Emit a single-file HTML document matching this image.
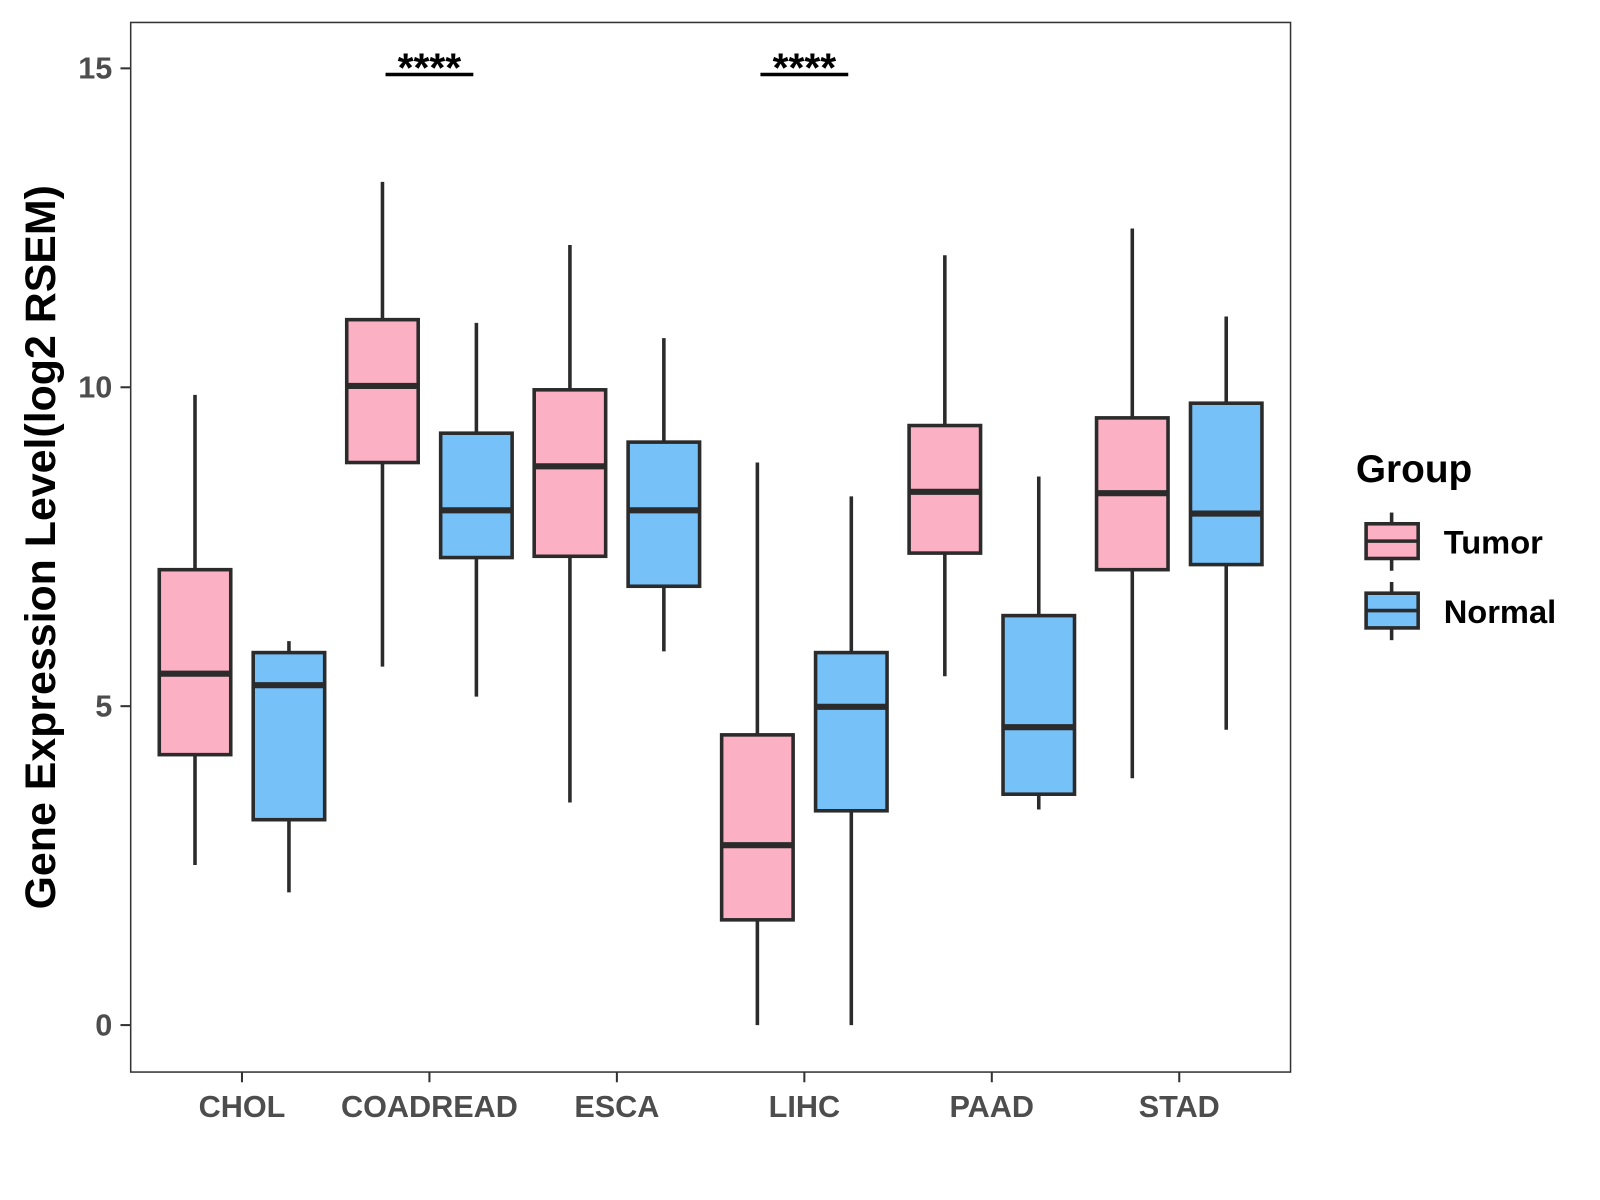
<!DOCTYPE html>
<html><head><meta charset="utf-8"><style>
html,body{margin:0;padding:0;background:#fff;}
svg{display:block;font-family:"Liberation Sans",Arial,sans-serif;}
</style></head><body>
<svg id="chart" width="1600" height="1200" viewBox="0 0 1600 1200" xmlns="http://www.w3.org/2000/svg">
<rect x="0" y="0" width="1600" height="1200" fill="#fff"/>
<g transform="scale(1.021)">
<rect x="128" y="22" width="1136" height="1028" fill="#fff" stroke="#333" stroke-width="1.5"/>
<g id="marks"></g>
<g id="axes"></g>
<text transform="translate(54,536) rotate(-90)" text-anchor="middle" font-size="42" font-weight="bold" fill="#000">Gene Expression Level(log2 RSEM)</text>
<g>
<text x="1328" y="472" font-size="38" font-weight="bold" fill="#000">Group</text>
<g>
<line x1="1363" y1="502" x2="1363" y2="559" stroke="#2b2b2b" stroke-width="3.5"/>
<rect x="1338" y="513" width="51" height="34" fill="#FBB1C3" stroke="#2b2b2b" stroke-width="3.5"/>
<line x1="1338" y1="530" x2="1389" y2="530" stroke="#2b2b2b" stroke-width="3.5"/>
<text x="1414" y="542" font-size="32" font-weight="bold" fill="#000">Tumor</text>
</g>
<g>
<line x1="1363" y1="570" x2="1363" y2="627" stroke="#2b2b2b" stroke-width="3.5"/>
<rect x="1338" y="581" width="51" height="34" fill="#76C1F8" stroke="#2b2b2b" stroke-width="3.5"/>
<line x1="1338" y1="598" x2="1389" y2="598" stroke="#2b2b2b" stroke-width="3.5"/>
<text x="1414" y="610" font-size="32" font-weight="bold" fill="#000">Normal</text>
</g>
</g>
</g>
</svg>
<script>
const categories=["CHOL","COADREAD","ESCA","LIHC","PAAD","STAD"];
const tumorMin=[2.51,5.62,3.49,0,5.47,3.87];
const tumorQ1=[4.24,8.82,7.35,1.65,7.40,7.14];
const tumorMed=[5.51,10.02,8.76,2.82,8.36,8.34];
const tumorQ3=[7.14,11.06,9.96,4.55,9.40,9.52];
const tumorMax=[9.88,13.22,12.23,8.82,12.07,12.49];
const normalMin=[2.08,5.15,5.86,0,3.38,4.63];
const normalQ1=[3.22,7.33,6.88,3.36,3.62,7.22];
const normalMed=[5.33,8.07,8.07,4.99,4.67,8.02];
const normalQ3=[5.84,9.28,9.14,5.84,6.42,9.75];
const normalMax=[6.02,11.01,10.77,8.29,8.60,11.11];
const yTicks=[0,5,10,15];
const signifCats=["COADREAD","LIHC"];
const signifLabel="****";
const signifY=15;

const NS="http://www.w3.org/2000/svg";
function y(v){return 1004-62.47*v;}
function x(i){return 237+183.6*i;}
function mk(tag,attrs,parent){const e=document.createElementNS(NS,tag);for(const k in attrs)e.setAttribute(k,attrs[k]);parent.appendChild(e);return e;}
const marks=document.getElementById('marks'),axes=document.getElementById('axes');
function box(cx,mn,q1,md,q3,mx,fill,name){
  const g=mk('g',{},marks);
  
  
  const st={stroke:'#2b2b2b','stroke-width':3.5};
  mk('line',Object.assign({x1:cx,x2:cx,y1:y(mx),y2:y(q3)},st),g);
  mk('line',Object.assign({x1:cx,x2:cx,y1:y(q1),y2:y(mn)},st),g);
  mk('rect',Object.assign({x:cx-35,y:y(q3),width:70,height:y(q1)-y(q3),fill:fill},st),g);
  mk('line',{x1:cx-35,x2:cx+35,y1:y(md),y2:y(md),stroke:'#2b2b2b','stroke-width':6},g);
}
categories.forEach((c,i)=>{
  box(x(i)-46,tumorMin[i],tumorQ1[i],tumorMed[i],tumorQ3[i],tumorMax[i],'#FBB1C3','box-tumor-'+c.toLowerCase());
  box(x(i)+46,normalMin[i],normalQ1[i],normalMed[i],normalQ3[i],normalMax[i],'#76C1F8','box-normal-'+c.toLowerCase());
  const t=mk('line',{x1:x(i),x2:x(i),y1:1050,y2:1060,stroke:'#333','stroke-width':2},axes);
  
  
  const l=mk('text',{x:x(i),y:1094,'text-anchor':'middle','font-size':30,'font-weight':'bold',fill:'#4d4d4d'},axes);
  l.textContent=c;
  
  
});
yTicks.forEach(v=>{
  const t=mk('line',{x1:118,x2:128,y1:y(v),y2:y(v),stroke:'#333','stroke-width':2},axes);
  
  
  const l=mk('text',{x:110,y:y(v)+10,'text-anchor':'end','font-size':30,'font-weight':'bold',fill:'#4d4d4d'},axes);
  l.textContent=v;
  
  
});
signifCats.forEach(c=>{
  const i=categories.indexOf(c);
  const ln=mk('line',{x1:x(i)-43,x2:x(i)+43,y1:y(signifY)+6,y2:y(signifY)+6,stroke:'#000','stroke-width':3.5},marks);
  
  
  const t=mk('text',{x:x(i),y:y(signifY)+13,'text-anchor':'middle','font-size':40,'font-weight':'bold',fill:'#000'},marks);
  t.textContent=signifLabel;
  
  
});
</script>
</body></html>
